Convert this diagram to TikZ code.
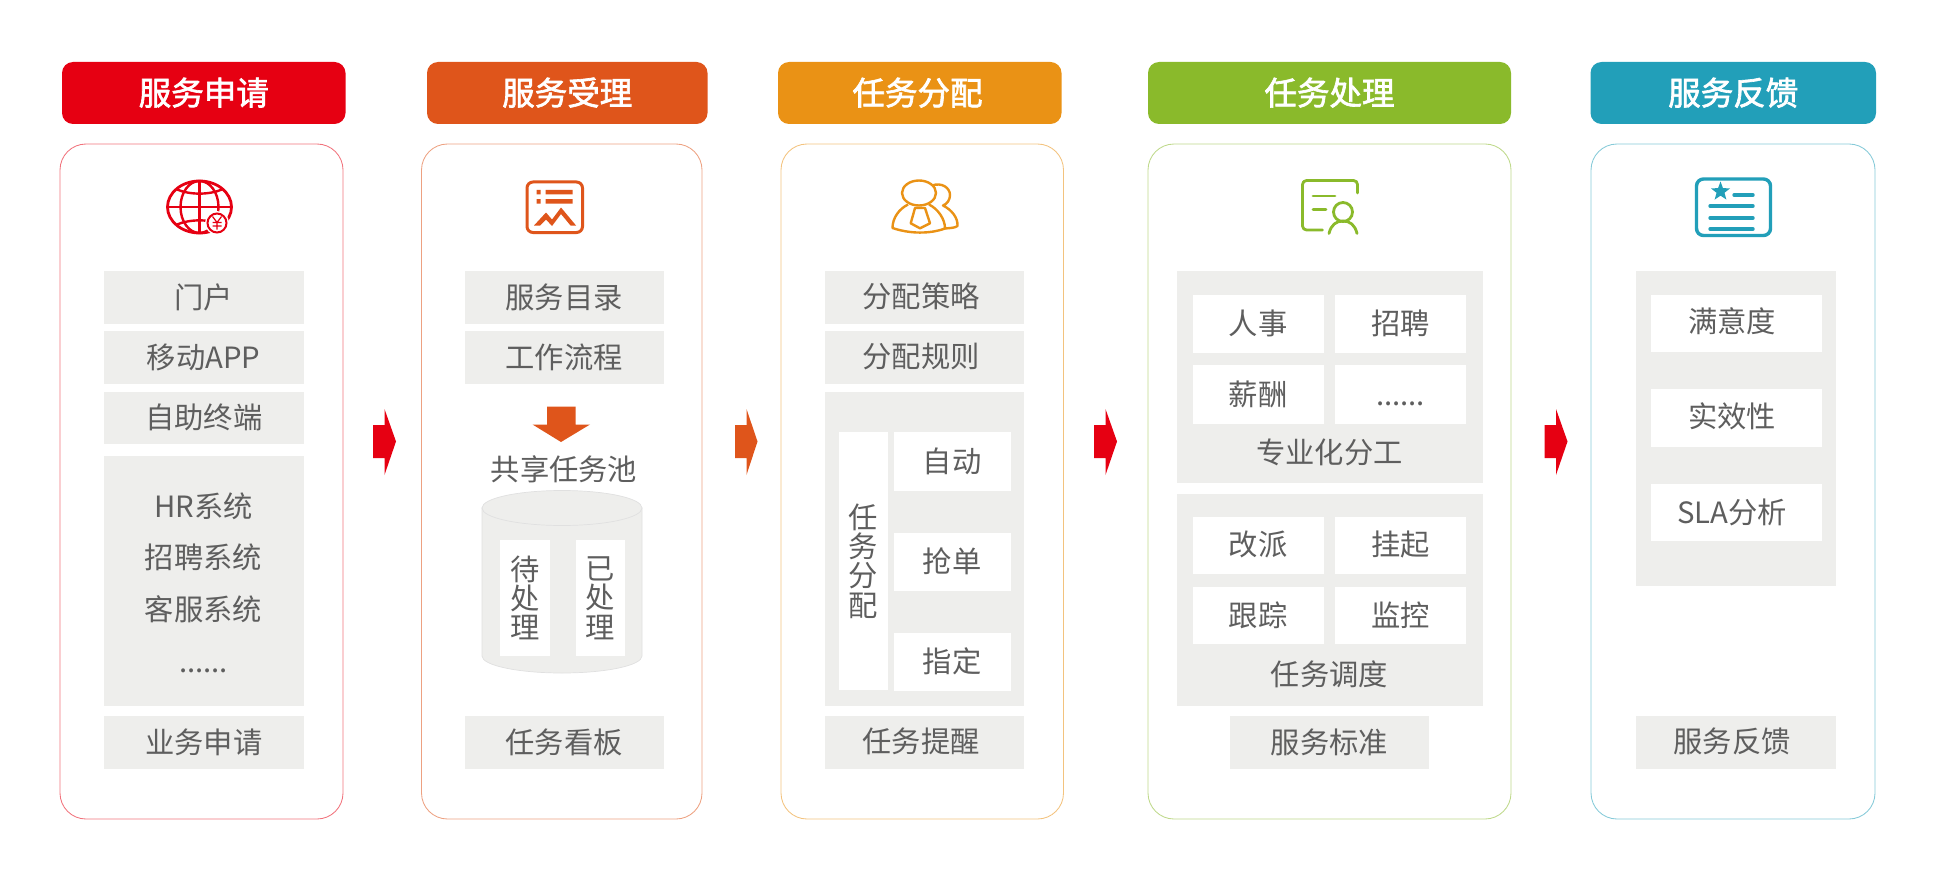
\documentclass[tikz,border=0pt]{standalone}
\usepackage{fontspec}
\usetikzlibrary{shapes.geometric}
\setmainfont{Noto Sans CJK SC}
\newfontfamily\headfont[FakeBold=2]{Noto Sans CJK SC}
\definecolor{cRed}{HTML}{E60012}
\definecolor{cOra}{HTML}{DF551B}
\definecolor{cAmb}{HTML}{EA9215}
\definecolor{cGrn}{HTML}{8ABA2B}
\definecolor{cTeal}{HTML}{229FB9}
\definecolor{cGray}{HTML}{EEEEEC}
\definecolor{cText}{HTML}{5E5E5E}
\tikzset{
  every node/.style={inner sep=0pt,outer sep=0pt},
  base/.style={text=cText,font=\fontsize{29.3}{29.3}\selectfont,text height=25.5pt,text depth=4pt,align=center},
  graybox/.style={base,fill=cGray},
  whitebox/.style={base,fill=white},
  plain/.style={base},
  head/.style={rounded corners=11pt,text=white,font=\headfont\fontsize{32.5}{32.5}\selectfont,text height=28pt,text depth=4pt,align=center},
  panel/.style={draw,draw opacity=.55,line width=.85pt,rounded corners=26pt,fill=white},
  vert/.style={text=cText,font=\fontsize{29.3}{29.3}\selectfont,align=center},
}
\newcommand\bx[7][]{%
  \pgfmathsetmacro\cxx{(#4+#6)/2}\pgfmathsetmacro\cyy{(#5+#7)/2}%
  \pgfmathsetmacro\www{#6-#4}\pgfmathsetmacro\hhh{#7-#5}%
  \node[#2,#1,minimum width=\www pt,minimum height=\hhh pt] (#3) at (\cxx,\cyy)}
\begin{document}
\begin{tikzpicture}[x=1pt,y=-1pt]
\useasboundingbox (0,0) rectangle (1942,874.5);
% panels
\bx[draw=cRed]{panel}{p1}{60}{144}{343}{819}{};
\bx[draw=cOra]{panel}{p2}{421.5}{144}{702}{819}{};
\bx[draw=cAmb]{panel}{p3}{781}{144}{1063.5}{819}{};
\bx[draw=cGrn]{panel}{p4}{1148}{144}{1511}{819}{};
\bx[draw=cTeal]{panel}{p5}{1591}{144}{1875}{819}{};
% headers
\bx[fill=cRed]{head}{h1}{62}{62}{345.5}{124}{服务申请};
\bx[fill=cOra]{head}{h2}{427}{62}{707.5}{124}{服务受理};
\bx[fill=cAmb]{head}{h3}{778}{62}{1061.5}{124}{};
\node[head,text=white] (h3t) at (917.5,93) {任务分配};
\bx[fill=cGrn]{head}{h4}{1148}{62}{1511}{124}{任务处理};
\bx[fill=cTeal]{head}{h5}{1590.5}{62}{1876}{124}{服务反馈};
% column 1
\bx{graybox}{a1}{104}{271}{303.5}{323.5}{门户};
\bx{graybox}{a2}{104}{331}{303.5}{383.5}{移动APP};
\bx{graybox}{a3}{104}{391.5}{303.5}{444}{自助终端};
\bx{graybox}{a4}{104}{455.5}{303.5}{706}{};
\node[plain] (a41) at (203.5,506.5) {HR系统};
\node[plain] (a42) at (203.5,558) {招聘系统};
\node[plain] (a43) at (203.5,610) {客服系统};
\node[plain] (a44) at (203.5,662) {......};
\bx{graybox}{a5}{104}{716}{303.5}{768.5}{业务申请};
% column 2
\bx{graybox}{b1}{464.5}{271}{664}{323.5}{服务目录};
\bx{graybox}{b2}{464.5}{331}{664}{383.5}{工作流程};
\path[fill=cOra] (547,406.5) -- (575.5,406.5) -- (575.5,424.5) -- (590,424.5) -- (561,442) -- (532.5,424.5) -- (547,424.5) -- cycle;
\node[plain] (b3) at (564,469.5) {共享任务池};
\path[fill=cGray,draw=black!12,line width=.7pt] (482,508) -- (482,656) arc[start angle=180,end angle=0,x radius=80,y radius=17] -- (642,508) -- cycle;
\path[fill=cGray,draw=black!12,line width=.7pt] (562,508) ellipse[x radius=80,y radius=17.5];
\bx{vert,fill=white}{b4}{500}{540}{549.5}{656}{待\\处\\理};
\bx{vert,fill=white}{b5}{575.5}{540}{624.5}{656}{已\\处\\理};
\bx{graybox}{b6}{464.5}{716}{664}{768.5}{任务看板};
% column 3
\bx{fill=cGray}{c1}{825}{271}{1024}{323.5}{};
\node[plain] (c1t) at (921,297) {分配策略};
\bx{fill=cGray}{c2}{825}{331}{1024}{383.5}{};
\node[plain] (c2t) at (921,357) {分配规则};
\bx{graybox}{c3}{825}{391.5}{1024}{706}{};
\bx{vert,fill=white}{c4}{838.5}{432}{888}{690}{任\\务\\分\\配};
\bx{whitebox}{c5}{894}{432}{1010.5}{490.5}{自动};
\bx{whitebox}{c6}{894}{532.5}{1010.5}{591}{抢单};
\bx{whitebox}{c7}{894}{633}{1010.5}{690.5}{指定};
\bx{fill=cGray}{c8}{825}{716}{1024}{768.5}{};
\node[plain] (c8t) at (921,742) {任务提醒};
% column 4
\bx{graybox}{d1}{1176.5}{271}{1482.5}{483}{};
\bx{whitebox}{d11}{1192.5}{295}{1324}{353}{人事};
\bx{whitebox}{d12}{1335}{295}{1466}{353}{招聘};
\bx{whitebox}{d13}{1192.5}{365}{1324}{423.5}{薪酬};
\bx{whitebox}{d14}{1335}{365}{1466}{423.5}{......};
\node[plain] (d15) at (1329.5,453) {专业化分工};
\bx{graybox}{d2}{1176.5}{494}{1482.5}{706}{};
\bx{whitebox}{d21}{1192.5}{516.5}{1324}{573.5}{改派};
\bx{whitebox}{d22}{1335}{516.5}{1466}{573.5}{挂起};
\bx{whitebox}{d23}{1192.5}{587}{1324}{644}{跟踪};
\bx{whitebox}{d24}{1335}{587}{1466}{644}{监控};
\node[plain] (d25) at (1329.5,675) {任务调度};
\bx{graybox}{d3}{1230}{716}{1429}{768.5}{服务标准};
% column 5
\bx{graybox}{e1}{1636}{271}{1835.5}{586}{};
\bx{fill=white}{e2}{1651}{295}{1822}{352}{};
\node[plain] (e2t) at (1732,322) {满意度};
\bx{fill=white}{e3}{1651}{389}{1822}{446.5}{};
\node[plain] (e3t) at (1732,417) {实效性};
\bx{fill=white}{e4}{1651}{484}{1822}{541}{};
\node[plain] (e4t) at (1732,513) {SLA分析};
\bx{fill=cGray}{e5}{1636}{716}{1835.5}{768.5}{};
\node[plain] (e5t) at (1732,742) {服务反馈};
% block arrows
\path[fill=cRed] (373,425) -- (384.5,425) -- (384.5,409) -- (396,441.5) -- (384.5,475) -- (384.5,458) -- (373,458) -- cycle;
\path[fill=cOra] (735,425) -- (746.5,425) -- (746.5,409) -- (757.5,441.5) -- (746.5,475) -- (746.5,458) -- (735,458) -- cycle;
\path[fill=cRed] (1094,425) -- (1105.5,425) -- (1105.5,409) -- (1117,441.5) -- (1105.5,475) -- (1105.5,458) -- (1094,458) -- cycle;
\path[fill=cRed] (1544.5,425) -- (1556,425) -- (1556,409) -- (1567.5,441.5) -- (1556,475) -- (1556,458) -- (1544.5,458) -- cycle;
% icon 1: globe
\begin{scope}[draw=cRed,line width=2.4pt]
\draw[line width=2.8pt] (199.5,207) ellipse[x radius=32,y radius=26];
\draw (199.5,207) ellipse[x radius=19,y radius=26];
\draw (199.5,181) -- (199.5,233);
\draw (167.5,207) -- (231.5,207);
\draw (177,189.5) .. controls (190,195) and (209,195) .. (222,189.5);
\draw (177,224.5) .. controls (190,219) and (209,219) .. (222,224.5);
\end{scope}
\fill[white] (217,223) circle[radius=12];
\draw[cRed,line width=2pt] (217,223) circle[radius=9.5];
\draw[cRed,line width=1.2pt] (212.5,216.5) -- (217,222.5) -- (221.5,216.5) (217,222.5) -- (217,229.5) (212.5,222.5) -- (221.5,222.5) (212.5,226) -- (221.5,226);
% icon 2: list and chart
\begin{scope}[cOra]
\draw[line width=3pt,rounded corners=6pt] (527,182) rectangle (582.5,232.5);
\fill (536.5,190) rectangle (540.5,194.5) (536.5,199) rectangle (540.5,203.5);
\fill (545.5,190) rectangle (572.5,194.5) (545.5,199) rectangle (572.5,203.5);
\path[fill] (534,225.5) -- (546,212.5) -- (552,219.5) -- (561,207.5) -- (576,225.5) -- (570.5,225.5) -- (561,214) -- (552,226) -- (546,219.5) -- (540,225.5) -- cycle;
\end{scope}
% icon 3: people
\begin{scope}[draw=cAmb,line width=2.4pt,line join=round]
\draw (919,193) ellipse[x radius=17,y radius=12.5];
\draw (908,204.5) .. controls (899,209) and (892.5,218) .. (892.5,228) .. controls (910,234) and (930,234) .. (945,228.5) .. controls (945,219) and (938,209) .. (929,204.5);
\draw (932,185.5) .. controls (942,182) and (950,188) .. (950,195) .. controls (950,200) and (947,204) .. (943,205.5) .. controls (952,210) and (958,218) .. (957.5,226) .. controls (955,228) and (950,228) .. (945,228.5);
\draw (915,208) -- (925,208) -- (930,223.3) -- (920,228.3) -- (910.7,223.3) -- cycle;
\end{scope}
% icon 4: document and person
\begin{scope}[draw=cGrn,line width=2.8pt,line cap=round,line join=round]
\draw[rounded corners=4pt] (1357.5,193) -- (1357.5,180.5) -- (1302.5,180.5) -- (1302.5,230) -- (1322.5,230);
\draw (1313,196) -- (1335,196);
\draw (1313,209.5) -- (1326,209.5);
\draw (1343,212) circle[radius=9.5];
\draw (1329,233.5) .. controls (1331,225) and (1336,221) .. (1343,221) .. controls (1350,221) and (1355,225) .. (1357,233.5);
\end{scope}
% icon 5: card
\begin{scope}[draw=cTeal,line width=3.4pt,line cap=round]
\draw[rounded corners=7pt] (1696.5,179) rectangle (1770.5,235.5);
\node[star,star points=5,star point ratio=2.4,fill=cTeal,minimum size=20pt] (star) at (1720.5,191.5) {};
\draw (1734,195) -- (1753,195);
\draw (1710,206) -- (1753,206);
\draw (1710,218) -- (1753,218);
\draw (1710,229) -- (1753,229);
\end{scope}
\end{tikzpicture}
\end{document}
